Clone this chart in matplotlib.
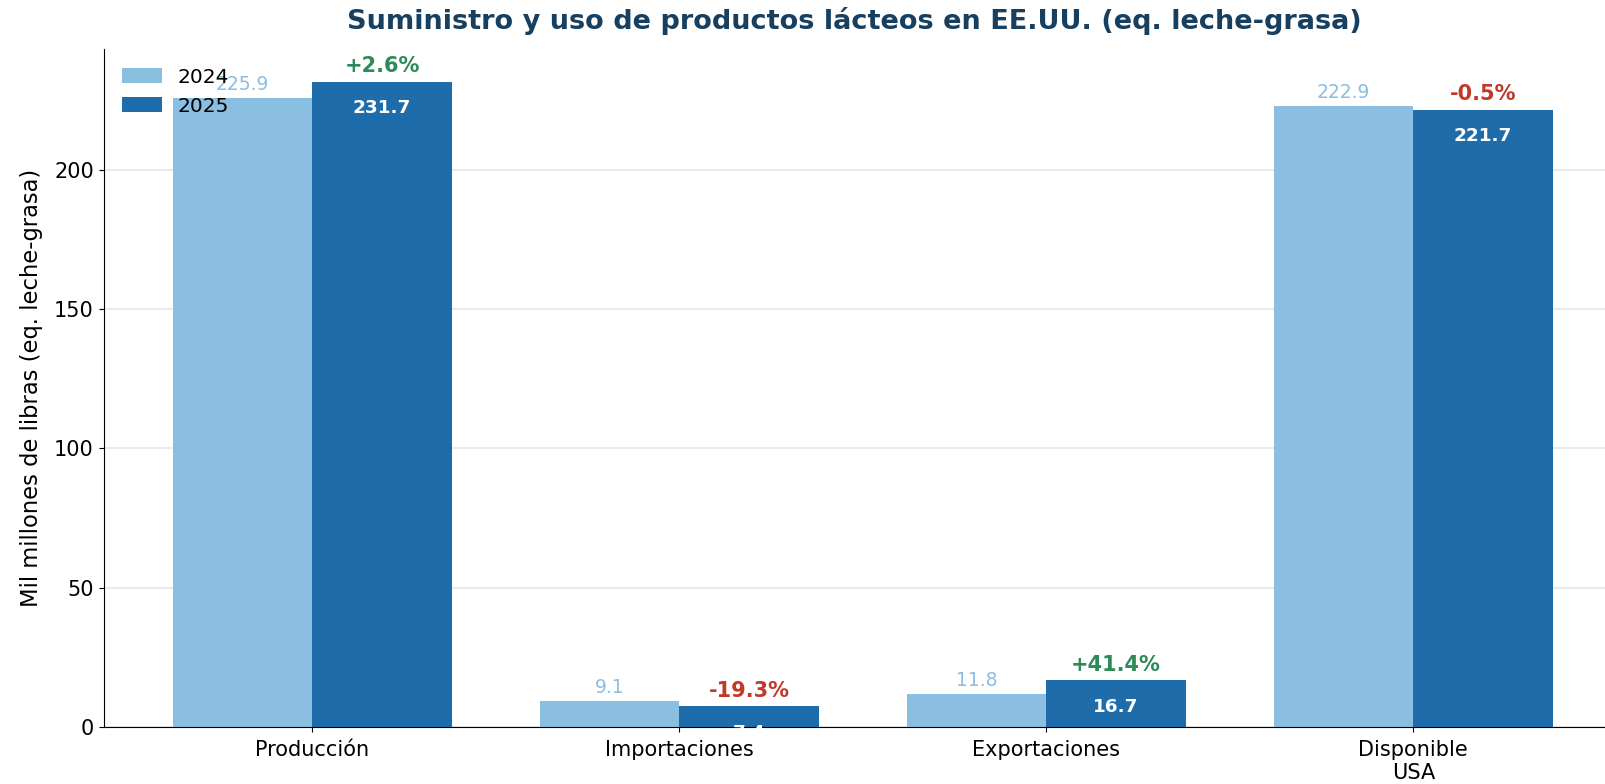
import numpy as np
import matplotlib.pyplot as plt

# Supply and use, billion pounds milk-fat equivalent
categories = ['Producción', 'Importaciones', 'Exportaciones', 'Disponible\nUSA']
values_2024 = [225.9, 9.14, 11.83, 222.9]
values_2025 = [231.7, 7.38, 16.73, 221.7]

c_2024 = '#8bbfe1'
c_2025 = '#1f6caa'
c_up = '#2e8b57'
c_down = '#c0392b'

fig = plt.figure(figsize=(16.06, 7.84), dpi=100)
ax = fig.add_axes([0.0645, 0.073, 0.9355, 0.864])

x = np.arange(len(categories))
w = 0.38
b1 = ax.bar(x - w / 2, values_2024, w, color=c_2024, label='2024', zorder=2)
b2 = ax.bar(x + w / 2, values_2025, w, color=c_2025, label='2025', zorder=2)

for rect, v in zip(b1, values_2024):
    ax.annotate(f'{v:.1f}', (rect.get_x() + rect.get_width() / 2, v),
                xytext=(0, 3), textcoords='offset points',
                ha='center', va='bottom', fontsize=13.5, color=c_2024)

for rect, v, v0 in zip(b2, values_2025, values_2024):
    cx = rect.get_x() + rect.get_width() / 2
    ax.annotate(f'{v:.1f}', (cx, v), xytext=(0, -19), textcoords='offset points',
                ha='center', va='center', fontsize=13.3, color='white',
                fontweight='bold')
    pct = (v / v0 - 1) * 100
    ax.annotate(f'{pct:+.1f}%', (cx, v), xytext=(0, 4), textcoords='offset points',
                ha='center', va='bottom', fontsize=15, fontweight='bold',
                color=c_up if pct >= 0 else c_down)

ax.set_xticks(x)
ax.set_xticklabels(categories, fontsize=15)
ax.tick_params(axis='y', labelsize=15)
ax.tick_params(axis='x', pad=6)
ax.set_xlim(-0.569, 3.525)
ax.set_ylim(0, 243.3)
ax.set_yticks([0, 50, 100, 150, 200])
ax.set_ylabel('Mil millones de libras (eq. leche-grasa)', fontsize=16.3, labelpad=8)
ax.set_title('Suministro y uso de productos lácteos en EE.UU. (eq. leche-grasa)',
             fontsize=19.5, fontweight='bold', color='#173f5f', pad=15)
ax.grid(axis='y', color='#dddddd', alpha=0.6, linewidth=1.5, zorder=0)
ax.spines['top'].set_visible(False)
ax.spines['right'].set_visible(False)
ax.legend(loc='upper left', frameon=False, fontsize=14.5, handlelength=2.0,
          handletextpad=0.75)

fig.savefig('out.png', dpi=100)
